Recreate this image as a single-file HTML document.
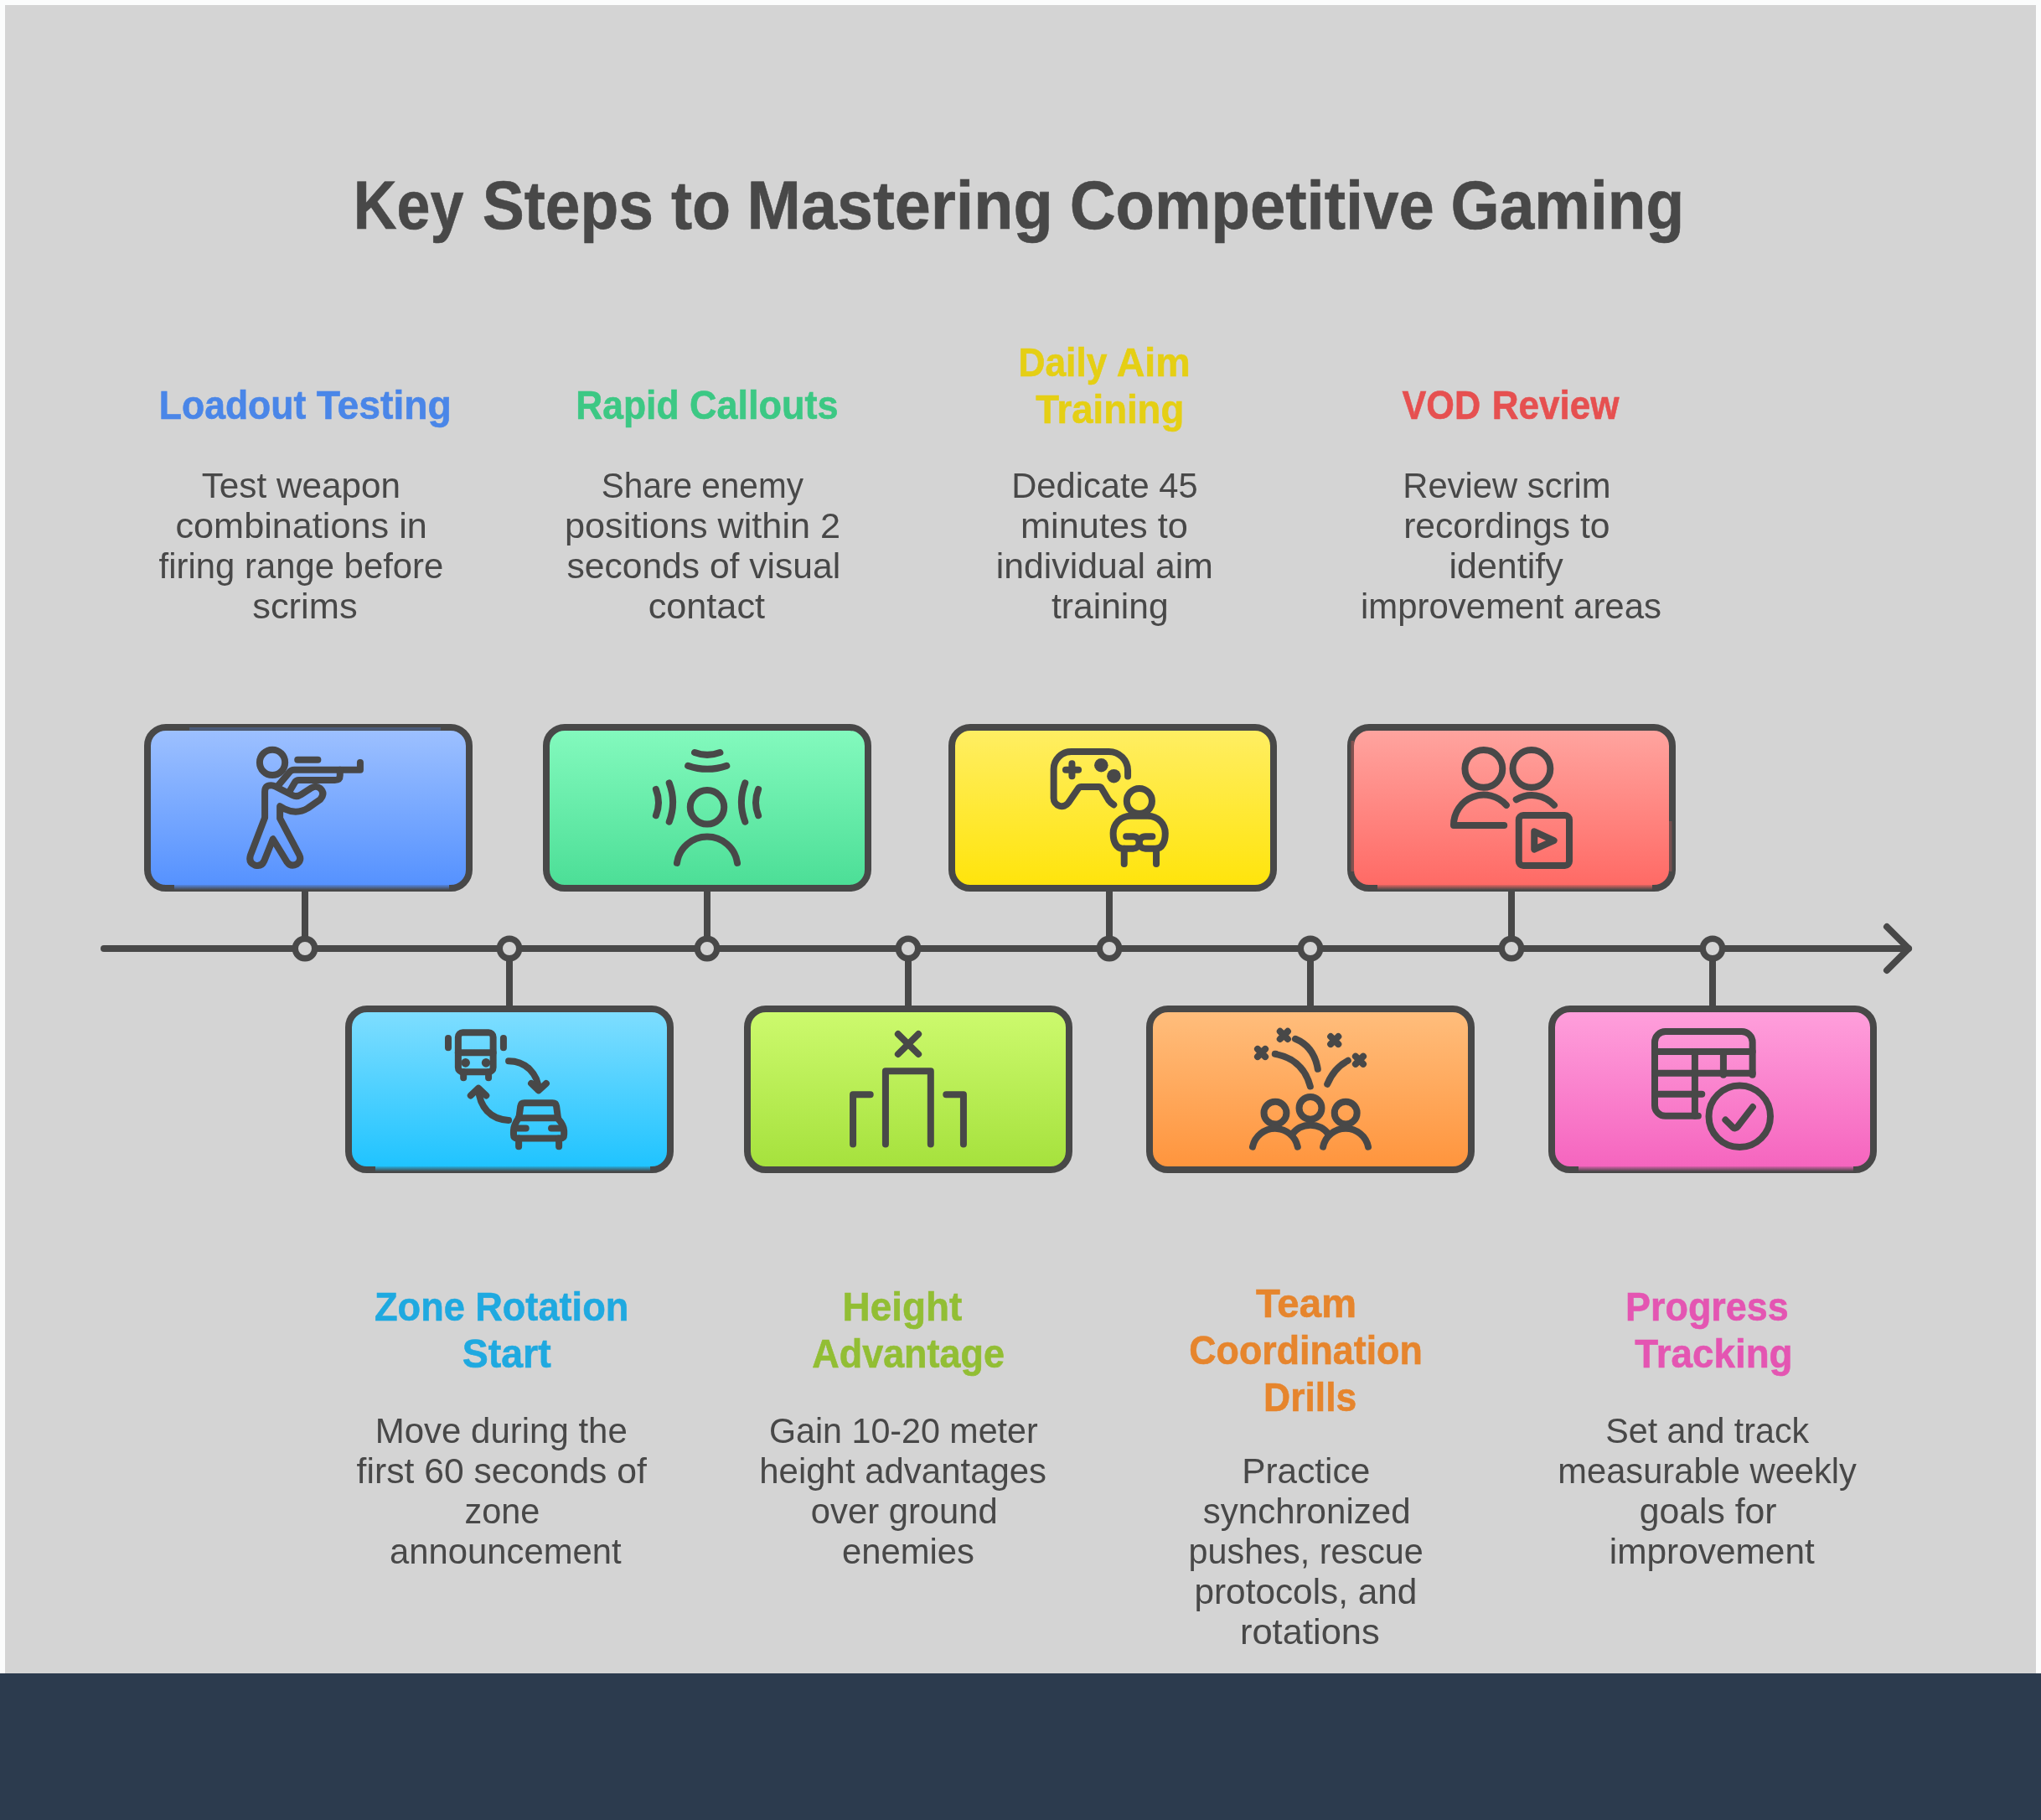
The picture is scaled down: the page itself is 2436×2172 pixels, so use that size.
<!DOCTYPE html>
<html><head><meta charset="utf-8"><title>Key Steps to Mastering Competitive Gaming</title>
<style>
html,body{margin:0;padding:0;background:#fbfcfc;}
body{width:2436px;height:2172px;overflow:hidden;font-family:"Liberation Sans",sans-serif;}
svg{display:block;position:absolute;left:0;top:0;}
text{font-family:"Liberation Sans",sans-serif;white-space:pre;}
</style></head><body>
<svg width="2436" height="2172" viewBox="0 0 2436 2172">
<defs>
<linearGradient id="g1" x1="0" y1="0" x2="0" y2="1"><stop offset="0" stop-color="#9ec1ff"/><stop offset="1" stop-color="#5491ff"/></linearGradient>
<linearGradient id="g2" x1="0" y1="0" x2="0" y2="1"><stop offset="0" stop-color="#84fabe"/><stop offset="1" stop-color="#4bde96"/></linearGradient>
<linearGradient id="g3" x1="0" y1="0" x2="0" y2="1"><stop offset="0" stop-color="#ffee64"/><stop offset="1" stop-color="#ffe40a"/></linearGradient>
<linearGradient id="g4" x1="0" y1="0" x2="0" y2="1"><stop offset="0" stop-color="#ffa5a0"/><stop offset="1" stop-color="#ff6964"/></linearGradient>
<linearGradient id="g5" x1="0" y1="0" x2="0" y2="1"><stop offset="0" stop-color="#80deff"/><stop offset="1" stop-color="#1ec3ff"/></linearGradient>
<linearGradient id="g6" x1="0" y1="0" x2="0" y2="1"><stop offset="0" stop-color="#cdfa6e"/><stop offset="1" stop-color="#a5e13c"/></linearGradient>
<linearGradient id="g7" x1="0" y1="0" x2="0" y2="1"><stop offset="0" stop-color="#ffbe7d"/><stop offset="1" stop-color="#ff943c"/></linearGradient>
<linearGradient id="g8" x1="0" y1="0" x2="0" y2="1"><stop offset="0" stop-color="#ffa0dc"/><stop offset="1" stop-color="#f564be"/></linearGradient>
<linearGradient id="bg1" x1="0" y1="0" x2="0" y2="1"><stop offset="0" stop-color="#5491ff" stop-opacity="0.85"/><stop offset="1" stop-color="#5491ff" stop-opacity="0"/></linearGradient>
<linearGradient id="bg2" x1="0" y1="0" x2="0" y2="1"><stop offset="0" stop-color="#4bde96" stop-opacity="0.85"/><stop offset="1" stop-color="#4bde96" stop-opacity="0"/></linearGradient>
<linearGradient id="bg3" x1="0" y1="0" x2="0" y2="1"><stop offset="0" stop-color="#ffe40a" stop-opacity="0.85"/><stop offset="1" stop-color="#ffe40a" stop-opacity="0"/></linearGradient>
<linearGradient id="bg4" x1="0" y1="0" x2="0" y2="1"><stop offset="0" stop-color="#ff6964" stop-opacity="0.85"/><stop offset="1" stop-color="#ff6964" stop-opacity="0"/></linearGradient>
<linearGradient id="bg5" x1="0" y1="0" x2="0" y2="1"><stop offset="0" stop-color="#1ec3ff" stop-opacity="0.85"/><stop offset="1" stop-color="#1ec3ff" stop-opacity="0"/></linearGradient>
<linearGradient id="bg6" x1="0" y1="0" x2="0" y2="1"><stop offset="0" stop-color="#a5e13c" stop-opacity="0.85"/><stop offset="1" stop-color="#a5e13c" stop-opacity="0"/></linearGradient>
<linearGradient id="bg7" x1="0" y1="0" x2="0" y2="1"><stop offset="0" stop-color="#ff943c" stop-opacity="0.85"/><stop offset="1" stop-color="#ff943c" stop-opacity="0"/></linearGradient>
<linearGradient id="bg8" x1="0" y1="0" x2="0" y2="1"><stop offset="0" stop-color="#f564be" stop-opacity="0.85"/><stop offset="1" stop-color="#f564be" stop-opacity="0"/></linearGradient>
</defs>
<rect x="0" y="0" width="2436" height="2172" fill="#fbfcfc"/>
<rect x="6" y="6" width="2424" height="1995" fill="#d4d4d4"/>
<rect x="0" y="1997" width="2436" height="175" fill="#2c3b4e"/>
<g fill="none" stroke="#484848" stroke-width="8" stroke-linecap="round" stroke-linejoin="round">
<path d="M124,1132 L2278,1132"/>
<path d="M2252,1106 L2278,1132 L2252,1158"/>
<path d="M364,1060 L364,1120" stroke-linecap="butt"/>
<path d="M844,1060 L844,1120" stroke-linecap="butt"/>
<path d="M1324,1060 L1324,1120" stroke-linecap="butt"/>
<path d="M1804,1060 L1804,1120" stroke-linecap="butt"/>
<path d="M608,1144 L608,1204" stroke-linecap="butt"/>
<path d="M1084,1144 L1084,1204" stroke-linecap="butt"/>
<path d="M1564,1144 L1564,1204" stroke-linecap="butt"/>
<path d="M2044,1144 L2044,1204" stroke-linecap="butt"/>
<circle cx="364" cy="1132" r="11.7" stroke-width="7.4" fill="#d4d4d4"/>
<circle cx="844" cy="1132" r="11.7" stroke-width="7.4" fill="#d4d4d4"/>
<circle cx="1324" cy="1132" r="11.7" stroke-width="7.4" fill="#d4d4d4"/>
<circle cx="1804" cy="1132" r="11.7" stroke-width="7.4" fill="#d4d4d4"/>
<circle cx="608" cy="1132" r="11.7" stroke-width="7.4" fill="#d4d4d4"/>
<circle cx="1084" cy="1132" r="11.7" stroke-width="7.4" fill="#d4d4d4"/>
<circle cx="1564" cy="1132" r="11.7" stroke-width="7.4" fill="#d4d4d4"/>
<circle cx="2044" cy="1132" r="11.7" stroke-width="7.4" fill="#d4d4d4"/>
<rect x="176" y="868" width="384" height="192" rx="22" fill="url(#g1)"/>
<rect x="652" y="868" width="384" height="192" rx="22" fill="url(#g2)"/>
<rect x="1136" y="868" width="384" height="192" rx="22" fill="url(#g3)"/>
<rect x="1612" y="868" width="384" height="192" rx="22" fill="url(#g4)"/>
<rect x="416" y="1204" width="384" height="192" rx="22" fill="url(#g5)"/>
<rect x="892" y="1204" width="384" height="192" rx="22" fill="url(#g6)"/>
<rect x="1372" y="1204" width="384" height="192" rx="22" fill="url(#g7)"/>
<rect x="1852" y="1204" width="384" height="192" rx="22" fill="url(#g8)"/>
<rect x="208" y="1056" width="328" height="6" fill="url(#bg1)" stroke="none"/>
<rect x="1644" y="1056" width="328" height="6" fill="url(#bg4)" stroke="none"/>
<rect x="448" y="1392" width="328" height="6" fill="url(#bg5)" stroke="none"/>
<rect x="1884" y="1392" width="328" height="6" fill="url(#bg8)" stroke="none"/>
<rect x="1612.5" y="884" width="3.5" height="156" fill="#ff6964" fill-opacity="0.32" stroke="none"/>
<rect x="1992" y="980" width="3.5" height="60" fill="#ff6964" fill-opacity="0.25" stroke="none"/>
<rect x="226" y="868" width="300" height="3.5" fill="#5491ff" fill-opacity="0.28" stroke="none"/>
<g transform="translate(284,880) scale(0.087912)" stroke-width="91.0">

<circle cx="467" cy="340" r="172"/>
<path d="M810,305 L1085,305"/>
<path d="M545,655 L700,470 Q725,440 765,440 L1660,440 L1660,340"/>
<path d="M1385,440 L1385,515 Q1385,580 1315,580 L830,580 Q790,580 770,615 L705,725"/>
<path d="M365,1090 L365,740 Q365,650 450,650 Q480,650 505,665 L740,785 Q800,815 860,775 L1000,685 Q1060,650 1115,690 Q1190,760 1115,845 L950,960 Q800,1050 640,975 L570,935 L570,1100 L830,1590 Q870,1670 800,1720 Q720,1765 665,1690 L475,1380 L355,1680 Q320,1760 230,1735 Q140,1700 170,1600 Z"/>

</g>
<g transform="translate(764,880) scale(0.087912)" stroke-width="91.0">

<circle cx="910" cy="948" r="230"/>
<path d="M500,1705 A414,414 0 0 1 1320,1705"/>
<path d="M740,205 Q910,270 1085,205"/>
<path d="M650,385 Q910,475 1175,385"/>
<path d="M395,620 Q495,880 395,1145"/>
<path d="M215,705 Q285,885 215,1060"/>
<path d="M1425,620 Q1325,880 1425,1145"/>
<path d="M1605,705 Q1535,885 1605,1060"/>

</g>
<g transform="translate(1244,880) scale(0.087912)" stroke-width="91.0">

<path d="M1161,530 L1161,450 A258,258 0 0 0 903,192 L395,192 A240,240 0 0 0 155,432 L155,825 A110,110 0 0 0 355,888 L490,690 Q505,672 530,672 L770,672 Q795,672 808,695 L900,850 Q930,890 970,915"/>
<path d="M318,440 L490,440 M403,355 L403,527"/>
<circle cx="800" cy="378" r="94" fill="#484848" stroke="none"/>
<circle cx="972" cy="525" r="94" fill="#484848" stroke="none"/>

</g>
<g transform="translate(1316,950) scale(0.049451)" stroke-width="161.8">

<circle cx="887" cy="122" r="305"/>
<path d="M570,975 L736,975 A146,146 0 0 1 736,1267 L480,1267 C330,1267 255,1100 255,900 C255,680 430,480 680,480 L1090,480 C1340,480 1512,680 1512,900 C1512,1100 1440,1267 1290,1267 L1032,1267 A146,146 0 0 1 1032,975 L1200,975"/>
<path d="M520,1267 L520,1640 M1295,1267 L1295,1640"/>

</g>
<g transform="translate(1724,880) scale(0.087912)" stroke-width="91.0">

<circle cx="533" cy="425" r="255"/>
<circle cx="1182" cy="425" r="255"/>
<path d="M840,920 A408,408 0 0 0 125,1195 L810,1195"/>
<path d="M975,845 A408,408 0 0 1 1490,920"/>
<rect x="1010" y="1057" width="685" height="683" rx="60"/>
<path d="M1220,1277 L1486,1400 L1220,1520 Z"/>

</g>
<g transform="translate(524,1220) scale(0.087912)" stroke-width="91.0">

<rect x="260" y="140" width="475" height="535" rx="62"/>
<path d="M260,412 L735,412"/>
<circle cx="360" cy="550" r="60" fill="#484848" stroke="none"/>
<circle cx="638" cy="550" r="60" fill="#484848" stroke="none"/>
<path d="M332,675 L332,755 M672,675 L672,755"/>
<path d="M125,215 L125,345 M875,215 L875,345"/>
<path d="M945,525 C1180,525 1340,700 1352,915"/>
<path d="M1252,830 L1352,925 L1455,830"/>
<path d="M945,1330 C700,1320 550,1150 535,905"/>
<path d="M430,995 L535,895 L640,995"/>
<path d="M1085,1300 L1106,1140 Q1112,1095 1160,1095 L1540,1095 Q1588,1095 1594,1140 L1615,1300"/>
<path d="M1080,1300 L1610,1300"/>
<path d="M1080,1300 Q1012,1400 1012,1470 L1012,1520 Q1012,1575 1065,1575 L1645,1575 Q1697,1575 1697,1520 L1697,1470 Q1697,1400 1610,1300"/>
<path d="M1060,1440 L1180,1440 M1525,1440 L1650,1440"/>
<path d="M1082,1575 L1082,1685 M1628,1575 L1628,1685"/>

</g>
<g transform="translate(1004,1220) scale(0.087912)" stroke-width="91.0">

<path d="M772,160 L1048,432 M1048,160 L772,432"/>
<path d="M602,1655 L602,662 L1215,662 L1215,1655"/>
<path d="M160,1655 L160,980 L395,980"/>
<path d="M1660,1655 L1660,980 L1425,980"/>

</g>
<g transform="translate(1484,1220) scale(0.087912)" stroke-width="91.0">

<circle cx="432" cy="1230" r="153"/>
<circle cx="910" cy="1165" r="153"/>
<circle cx="1390" cy="1230" r="153"/>
<path d="M125,1690 A313,313 0 0 1 737,1690"/>
<path d="M1082,1690 A313,313 0 0 1 1695,1690"/>
<path d="M655,1530 A310,310 0 0 1 1165,1530"/>
<path d="M430,430 Q810,500 908,870"/>
<path d="M705,225 Q960,330 1010,635"/>
<path d="M1140,840 Q1230,620 1420,520"/>
<path d="M498,123 L602,227 M602,123 L498,227"/><path d="M1185,193 L1289,297 M1289,193 L1185,297"/><path d="M193,363 L297,467 M297,363 L193,467"/><path d="M1523,463 L1627,567 M1627,463 L1523,567"/>
</g>
<g transform="translate(1964,1220) scale(0.087912)" stroke-width="91.0">

<path d="M1452,715 L1452,270 A145,145 0 0 0 1307,125 L270,125 A145,145 0 0 0 125,270 L125,1128 A145,145 0 0 0 270,1272 L715,1272"/>
<path d="M125,397 L1452,397 M125,690 L1452,690 M125,975 L765,975"/>
<path d="M670,397 L670,1272 M1057,397 L1057,715"/>
<circle cx="1277" cy="1277" r="418"/>
<path d="M1085,1325 L1185,1425 Q1218,1455 1250,1415 L1455,1150"/>

</g>
</g>
<g opacity="0.999">
<text transform="translate(421.72,272.60) scale(0.8764,1)" font-size="82" font-weight="700" stroke="#484848" stroke-width="0.6" fill="#484848">Key</text>
<text transform="translate(575.77,272.60) scale(0.9150,1)" font-size="82" font-weight="700" stroke="#484848" stroke-width="0.6" fill="#484848">Steps</text>
<text transform="translate(800.88,272.60) scale(0.9208,1)" font-size="82" font-weight="700" stroke="#484848" stroke-width="0.6" fill="#484848">to</text>
<text transform="translate(891.48,272.60) scale(0.9435,1)" font-size="82" font-weight="700" stroke="#484848" stroke-width="0.6" fill="#484848">Mastering</text>
<text transform="translate(1276.72,272.60) scale(0.9271,1)" font-size="82" font-weight="700" stroke="#484848" stroke-width="0.6" fill="#484848">Competitive</text>
<text transform="translate(1731.56,272.60) scale(0.9126,1)" font-size="82" font-weight="700" stroke="#484848" stroke-width="0.6" fill="#484848">Gaming</text>
<text transform="translate(189.77,500.00) scale(0.9083,1)" font-size="49" font-weight="700" stroke="#4a86e8" stroke-width="0.6" fill="#4a86e8">Loadout</text>
<text transform="translate(377.70,500.00) scale(0.9448,1)" font-size="49" font-weight="700" stroke="#4a86e8" stroke-width="0.6" fill="#4a86e8">Testing</text>
<text transform="translate(687.28,500.00) scale(0.9057,1)" font-size="49" font-weight="700" stroke="#3cc884" stroke-width="0.6" fill="#3cc884">Rapid</text>
<text transform="translate(822.96,500.00) scale(0.9187,1)" font-size="49" font-weight="700" stroke="#3cc884" stroke-width="0.6" fill="#3cc884">Callouts</text>
<text transform="translate(1215.49,448.50) scale(0.9037,1)" font-size="49" font-weight="700" stroke="#e5cf14" stroke-width="0.6" fill="#e5cf14">Daily</text>
<text transform="translate(1332.65,448.50) scale(0.9517,1)" font-size="49" font-weight="700" stroke="#e5cf14" stroke-width="0.6" fill="#e5cf14">Aim</text>
<text transform="translate(1236.20,504.50) scale(0.9289,1)" font-size="49" font-weight="700" stroke="#e5cf14" stroke-width="0.6" fill="#e5cf14">Training</text>
<text transform="translate(1673.50,500.00) scale(0.8817,1)" font-size="49" font-weight="700" stroke="#e65050" stroke-width="0.6" fill="#e65050">VOD</text>
<text transform="translate(1780.70,500.00) scale(0.8989,1)" font-size="49" font-weight="700" stroke="#e65050" stroke-width="0.6" fill="#e65050">Review</text>
<text transform="translate(446.98,1575.50) scale(0.9217,1)" font-size="49" font-weight="700" stroke="#1fa9e0" stroke-width="0.6" fill="#1fa9e0">Zone</text>
<text transform="translate(567.13,1575.50) scale(0.9224,1)" font-size="49" font-weight="700" stroke="#1fa9e0" stroke-width="0.6" fill="#1fa9e0">Rotation</text>
<text transform="translate(551.65,1631.50) scale(0.9500,1)" font-size="49" font-weight="700" stroke="#1fa9e0" stroke-width="0.6" fill="#1fa9e0">Start</text>
<text transform="translate(1005.59,1575.50) scale(0.9362,1)" font-size="49" font-weight="700" stroke="#92be34" stroke-width="0.6" fill="#92be34">Height</text>
<text transform="translate(969.28,1631.50) scale(0.9168,1)" font-size="49" font-weight="700" stroke="#92be34" stroke-width="0.6" fill="#92be34">Advantage</text>
<text transform="translate(1498.90,1571.70) scale(0.9664,1)" font-size="49" font-weight="700" stroke="#e6852d" stroke-width="0.6" fill="#e6852d">Team</text>
<text transform="translate(1419.17,1627.70) scale(0.9143,1)" font-size="49" font-weight="700" stroke="#e6852d" stroke-width="0.6" fill="#e6852d">Coordination</text>
<text transform="translate(1508.08,1683.50) scale(0.9079,1)" font-size="49" font-weight="700" stroke="#e6852d" stroke-width="0.6" fill="#e6852d">Drills</text>
<text transform="translate(1940.05,1575.50) scale(0.9165,1)" font-size="49" font-weight="700" stroke="#e455b2" stroke-width="0.6" fill="#e455b2">Progress</text>
<text transform="translate(1951.20,1631.50) scale(0.9351,1)" font-size="49" font-weight="700" stroke="#e455b2" stroke-width="0.6" fill="#e455b2">Tracking</text>
<text transform="translate(240.70,593.50) scale(1.0062,1)" font-size="42" fill="#484848">Test weapon</text>
<text transform="translate(209.47,641.50) scale(1.0296,1)" font-size="42" fill="#484848">combinations in</text>
<text transform="translate(189.60,689.50) scale(0.9967,1)" font-size="42" fill="#484848">firing range before</text>
<text transform="translate(301.17,737.50) scale(1.0343,1)" font-size="42" fill="#484848">scrims</text>
<text transform="translate(717.83,593.50) scale(0.9654,1)" font-size="42" fill="#484848">Share enemy</text>
<text transform="translate(673.94,641.50) scale(1.0294,1)" font-size="42" fill="#484848">positions within 2</text>
<text transform="translate(676.39,689.50) scale(1.0146,1)" font-size="42" fill="#484848">seconds of visual</text>
<text transform="translate(773.67,737.50) scale(1.0294,1)" font-size="42" fill="#484848">contact</text>
<text transform="translate(1207.22,593.50) scale(0.9928,1)" font-size="42" fill="#484848">Dedicate 45</text>
<text transform="translate(1218.04,641.50) scale(1.0315,1)" font-size="42" fill="#484848">minutes to</text>
<text transform="translate(1188.76,689.50) scale(1.0181,1)" font-size="42" fill="#484848">individual aim</text>
<text transform="translate(1255.00,737.50) scale(1.0141,1)" font-size="42" fill="#484848">training</text>
<text transform="translate(1674.22,593.50) scale(0.9947,1)" font-size="42" fill="#484848">Review scrim</text>
<text transform="translate(1675.17,641.50) scale(1.0149,1)" font-size="42" fill="#484848">recordings to</text>
<text transform="translate(1729.55,689.50) scale(1.0231,1)" font-size="42" fill="#484848">identify</text>
<text transform="translate(1624.00,737.50) scale(0.9986,1)" font-size="42" fill="#484848">improvement areas</text>
<text transform="translate(447.80,1721.50) scale(0.9996,1)" font-size="42" fill="#484848">Move during the</text>
<text transform="translate(425.60,1769.50) scale(1.0165,1)" font-size="42" fill="#484848">first 60 seconds of</text>
<text transform="translate(554.51,1817.50) scale(0.9863,1)" font-size="42" fill="#484848">zone</text>
<text transform="translate(465.10,1865.50) scale(0.9956,1)" font-size="42" fill="#484848">announcement</text>
<text transform="translate(917.94,1721.50) scale(0.9817,1)" font-size="42" fill="#484848">Gain 10-20 meter</text>
<text transform="translate(906.30,1769.50) scale(0.9986,1)" font-size="42" fill="#484848">height advantages</text>
<text transform="translate(967.80,1817.50) scale(0.9951,1)" font-size="42" fill="#484848">over ground</text>
<text transform="translate(1005.00,1865.50) scale(0.9952,1)" font-size="42" fill="#484848">enemies</text>
<text transform="translate(1482.17,1769.50) scale(1.0098,1)" font-size="42" fill="#484848">Practice</text>
<text transform="translate(1435.80,1817.50) scale(1.0012,1)" font-size="42" fill="#484848">synchronized</text>
<text transform="translate(1418.53,1865.50) scale(0.9841,1)" font-size="42" fill="#484848">pushes, rescue</text>
<text transform="translate(1425.48,1913.50) scale(1.0082,1)" font-size="42" fill="#484848">protocols, and</text>
<text transform="translate(1479.93,1961.50) scale(1.0361,1)" font-size="42" fill="#484848">rotations</text>
<text transform="translate(1916.22,1721.50) scale(0.9819,1)" font-size="42" fill="#484848">Set and track</text>
<text transform="translate(1859.32,1769.50) scale(0.9922,1)" font-size="42" fill="#484848">measurable weekly</text>
<text transform="translate(1956.68,1817.50) scale(1.0175,1)" font-size="42" fill="#484848">goals for</text>
<text transform="translate(1920.78,1865.50) scale(1.0096,1)" font-size="42" fill="#484848">improvement</text>
</g>
</svg></body></html>
